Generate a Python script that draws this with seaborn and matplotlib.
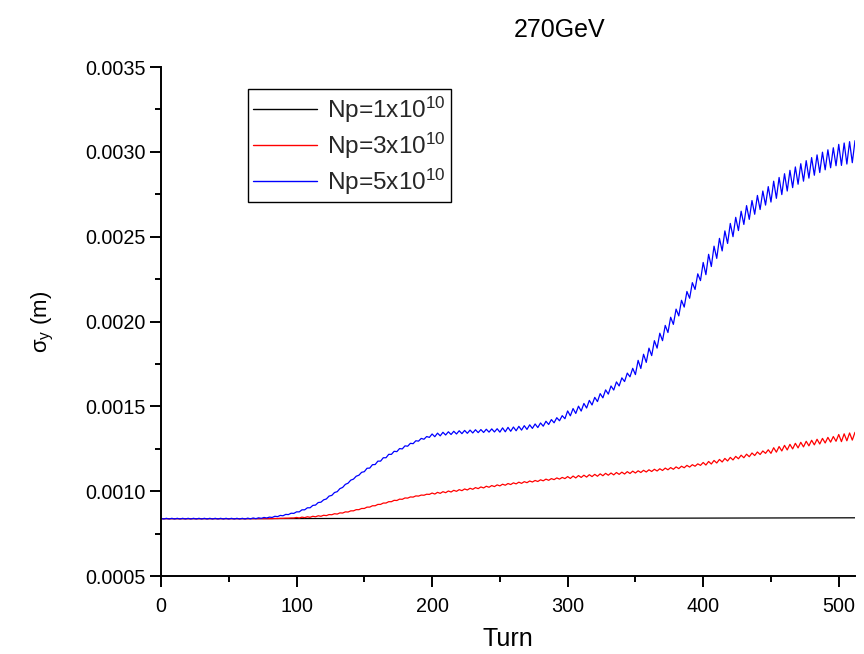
import numpy as np
import matplotlib
matplotlib.use("Agg")
import matplotlib.pyplot as plt
import seaborn as sns
from matplotlib.ticker import MultipleLocator, FormatStrFormatter

# ---------------- data (sigma_y in micrometres) ----------------
turns = np.arange(0, 514, 2)  # turn grid, every 2 turns (0 ... 512)

sigma_np1_turns = [0, 64, 128, 192, 256, 320, 384, 448, 512]
sigma_np1_um = [838, 838, 839, 839, 840, 840, 841, 842, 843]

sigma_np3_um = [
    838, 838, 838, 838, 838,  838, 838, 838, 838, 838,
    838, 838, 838, 838, 838,  838, 838, 838, 838, 838,
    838, 838, 838, 838, 838,  838, 838, 838, 838, 838,
    838, 838, 838, 838, 838,  838, 838, 838, 838, 838,
    838, 838, 839, 839, 840,  840, 841, 841, 842, 842,
    845, 842, 847, 844, 849,  846, 852, 849, 855, 852,
    858, 856, 862, 861, 867,  865, 872, 871, 878, 877,
    884, 884, 891, 891, 898,  898, 906, 906, 914, 914,
    922, 922, 930, 930, 938,  938, 946, 945, 953, 952,
    960, 959, 966, 965, 972,  971, 977, 976, 982, 981,
    989, 983, 993, 987, 997,  991, 1001, 995, 1005, 999,
    1009, 1003, 1013, 1007, 1017,  1011, 1021, 1015, 1025, 1019,
    1029, 1023, 1033, 1027, 1037,  1031, 1041, 1035, 1045, 1039,
    1049, 1043, 1053, 1046, 1056,  1050, 1060, 1054, 1063, 1057,
    1067, 1061, 1071, 1064, 1074,  1068, 1078, 1071, 1081, 1074,
    1086, 1075, 1089, 1078, 1092,  1081, 1094, 1083, 1097, 1086,
    1099, 1088, 1102, 1091, 1105,  1094, 1107, 1096, 1110, 1099,
    1112, 1101, 1115, 1104, 1118,  1107, 1120, 1110, 1123, 1113,
    1126, 1116, 1129, 1119, 1132,  1122, 1136, 1126, 1139, 1129,
    1143, 1133, 1147, 1138, 1152,  1142, 1156, 1147, 1161, 1152,
    1169, 1154, 1175, 1160, 1181,  1166, 1187, 1172, 1193, 1178,
    1199, 1184, 1205, 1191, 1212,  1197, 1218, 1203, 1225, 1210,
    1231, 1216, 1237, 1223, 1244,  1223, 1256, 1230, 1263, 1237,
    1270, 1243, 1276, 1249, 1282,  1255, 1288, 1261, 1294, 1267,
    1300, 1273, 1306, 1278, 1311,  1284, 1317, 1289, 1322, 1294,
    1334, 1292, 1338, 1297, 1343,  1301, 1347,
]

sigma_np5_um = [
    840, 836, 840, 836, 840,  836, 840, 836, 840, 836,
    840, 836, 840, 836, 840,  836, 840, 836, 840, 836,
    840, 836, 840, 836, 840,  836, 840, 836, 840, 836,
    840, 836, 841, 837, 842,  838, 843, 840, 845, 842,
    847, 845, 852, 850, 857,  855, 863, 862, 870, 869,
    878, 878, 890, 890, 902,  902, 916, 918, 933, 935,
    949, 954, 971, 975, 992,  997, 1015, 1022, 1040, 1047,
    1065, 1071, 1088, 1094, 1111,  1115, 1135, 1136, 1156, 1157,
    1177, 1177, 1197, 1197, 1217,  1217, 1235, 1233, 1251, 1249,
    1267, 1265, 1282, 1280, 1297,  1295, 1311, 1306, 1322, 1317,
    1337, 1321, 1342, 1326, 1347,  1331, 1350, 1334, 1353, 1337,
    1356, 1339, 1358, 1341, 1360,  1343, 1362, 1345, 1363, 1346,
    1365, 1348, 1367, 1349, 1368,  1348, 1373, 1350, 1376, 1353,
    1378, 1356, 1382, 1360, 1386,  1364, 1391, 1370, 1396, 1375,
    1402, 1383, 1412, 1393, 1422,  1403, 1433, 1415, 1445, 1427,
    1473, 1444, 1487, 1458, 1501,  1472, 1517, 1490, 1535, 1508,
    1553, 1528, 1575, 1550, 1597,  1572, 1620, 1596, 1644, 1620,
    1668, 1646, 1696, 1674, 1724,  1687, 1771, 1723, 1807, 1759,
    1843, 1799, 1887, 1843, 1931,  1887, 1977, 1935, 2025, 1983,
    2073, 2033, 2125, 2085, 2177,  2137, 2229, 2189, 2281, 2241,
    2348, 2276, 2396, 2324, 2444,  2372, 2490, 2416, 2534, 2460,
    2578, 2500, 2614, 2536, 2650,  2572, 2683, 2602, 2713, 2632,
    2743, 2660, 2769, 2686, 2795,  2704, 2827, 2726, 2849, 2748,
    2871, 2769, 2891, 2789, 2911,  2809, 2930, 2827, 2948, 2845,
    2966, 2862, 2982, 2878, 2998,  2894, 3012, 2906, 3024, 2918,
    3044, 2920, 3052, 2928, 3060,  2936, 3066,
]

series_labels = ["Np=1x10$^{10}$", "Np=3x10$^{10}$", "Np=5x10$^{10}$"]
series_colors = ["#000000", "#ff0000", "#0000ff"]

x_ticks = [0, 100, 200, 300, 400, 500]
y_ticks = [0.0005, 0.0010, 0.0015, 0.0020, 0.0025, 0.0030, 0.0035]

# ---------------- style ----------------
sns.set_theme(style="white")
plt.rcParams["font.family"] = ["Liberation Sans", "DejaVu Sans"]
plt.rcParams["mathtext.fontset"] = "custom"
plt.rcParams["mathtext.rm"] = "Liberation Sans"
plt.rcParams["mathtext.it"] = "Liberation Sans"
plt.rcParams["mathtext.default"] = "regular"

fig = plt.figure(figsize=(8.64, 6.54), dpi=100)
W, H = 864, 654
ax = fig.add_axes([161 / W, 1 - 576 / H, (855 - 161) / W, (576 - 67) / H])

um = 1e-6
sns.lineplot(x=sigma_np1_turns, y=np.array(sigma_np1_um) * um, ax=ax,
             color=series_colors[0], linewidth=0.9, label=series_labels[0],
             estimator=None, sort=False)
sns.lineplot(x=turns, y=np.array(sigma_np3_um) * um, ax=ax,
             color=series_colors[1], linewidth=0.9, label=series_labels[1],
             estimator=None, sort=False)
sns.lineplot(x=turns, y=np.array(sigma_np5_um) * um, ax=ax,
             color=series_colors[2], linewidth=0.9, label=series_labels[2],
             estimator=None, sort=False)

ax.set_xlim(0, 512)
ax.set_ylim(0.0005, 0.0035)
ax.set_xticks(x_ticks)
ax.set_yticks(y_ticks)
ax.xaxis.set_minor_locator(MultipleLocator(50))
ax.yaxis.set_minor_locator(MultipleLocator(0.00025))
ax.yaxis.set_major_formatter(FormatStrFormatter("%.4f"))

for s in ["top", "right"]:
    ax.spines[s].set_visible(False)
for s in ["left", "bottom"]:
    ax.spines[s].set_color("black")
    ax.spines[s].set_linewidth(1.4)

ax.tick_params(axis="both", which="major", direction="out", length=8, width=1.4,
               color="black", labelsize=14.2, labelcolor="black")
ax.tick_params(axis="both", which="minor", direction="out", length=4.3, width=1.4,
               color="black")
ax.tick_params(axis="x", which="major", pad=7)
ax.tick_params(axis="y", which="major", pad=3)
ax.tick_params(bottom=True, left=True, which="both")

ax.set_xlabel("Turn", fontsize=18, color="black")
ax.set_ylabel(r"$\sigma_y$ (m)", fontsize=16, color="black")
ax.xaxis.set_label_coords(0.5, -0.10)
ax.yaxis.set_label_coords(-0.152, 0.5)

fig.text(560 / W, 1 - 30 / H, "270GeV", ha="center", va="center", fontsize=18,
         color="black")

leg = ax.legend(loc="upper left", bbox_to_anchor=(248 / W, 1 - 89 / H),
                bbox_transform=fig.transFigure, borderaxespad=0,
                fontsize=17.6, frameon=True, fancybox=False, edgecolor="black",
                framealpha=1, handlelength=2.6, handletextpad=0.4,
                labelspacing=0.24, borderpad=0.22)
leg.get_frame().set_linewidth(1.0)
for line in leg.get_lines():
    line.set_linewidth(1.0)

fig.savefig("out.png", dpi=100)
